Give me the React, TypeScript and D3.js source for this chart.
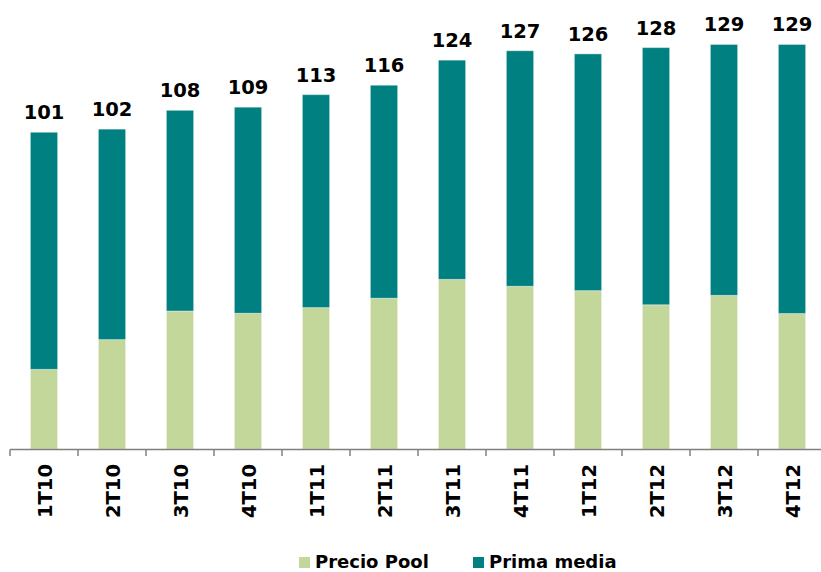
import React from "react";
import * as d3 from "d3";

const categories = ["1T10", "2T10", "3T10", "4T10", "1T11", "2T11", "3T11", "4T11", "1T12", "2T12", "3T12", "4T12"];
const totals = [101, 102, 108, 109, 113, 116, 124, 127, 126, 128, 129, 129];
const precioPool = [25.4, 34.9, 44.0, 43.3, 45.1, 48.1, 54.1, 51.9, 50.5, 46.0, 49.0, 43.2];
const primaMedia = totals.map((t, i) => t - precioPool[i]);
const seriesNames = ["Precio Pool", "Prima media"];
const seriesColors = ["#C4D79B", "#008080"];

const W = 821;
const H = 572;
const FONT = "'DejaVu Sans', Verdana, sans-serif";

export default function App() {
  const x = d3.scaleBand<string>().domain(categories).range([10, 826]).padding(0);
  const y = d3.scaleLinear().domain([0, 140]).range([449, 10]);
  const bw = x.bandwidth();
  const barW = bw * 0.4;

  const rows = categories.map((c, i) => ({ c, pool: precioPool[i], prima: primaMedia[i], total: totals[i] }));
  const stack = d3.stack<any>().keys(["pool", "prima"])(rows);

  const tickXs = categories.map((c) => x(c)!).concat([x(categories[categories.length - 1])! + bw]);

  return (
    <svg width={W} height={H} style={{ position: "absolute", left: 0, top: 0, background: "#fff" }}>
      {stack.map((layer, li) => (
        <g key={li} fill={seriesColors[li]}>
          {layer.map((d, i) => (
            <rect
              key={i}
              x={x(categories[i])! + bw * 0.3}
              y={y(d[1])}
              width={barW}
              height={y(d[0]) - y(d[1])}
              stroke="rgba(255,255,255,0.35)"
              strokeWidth={1}
            />
          ))}
        </g>
      ))}
      {rows.map((r, i) => (
        <text
          key={i}
          x={x(r.c)! + bw / 2}
          y={y(r.total) - 13}
          textAnchor="middle"
          fontFamily={FONT}
          fontWeight="bold"
          fontSize={19.5}
          fill="#000"
        >
          {r.total}
        </text>
      ))}
      <line x1={10} x2={W} y1={449.5} y2={449.5} stroke="#7f7f7f" strokeWidth={1.5} />
      {tickXs.map((tx, i) => (
        <line key={i} x1={tx} x2={tx} y1={449.5} y2={456} stroke="#7f7f7f" strokeWidth={1.5} />
      ))}
      {categories.map((c) => (
        <text
          key={c}
          transform={`translate(${x(c)! + bw / 2 + 7.5},464) rotate(-90)`}
          textAnchor="end"
          fontFamily={FONT}
          fontWeight="bold"
          fontSize={19.5}
          fill="#000"
        >
          {c}
        </text>
      ))}
      {seriesNames.map((n, i) => {
        const lx = [299, 473][i];
        return (
          <g key={n}>
            <rect x={lx} y={557} width={11} height={11} fill={seriesColors[i]} />
            <text x={lx + 16} y={568} fontFamily={FONT} fontWeight="bold" fontSize={18} fill="#000">
              {n}
            </text>
          </g>
        );
      })}
    </svg>
  );
}
